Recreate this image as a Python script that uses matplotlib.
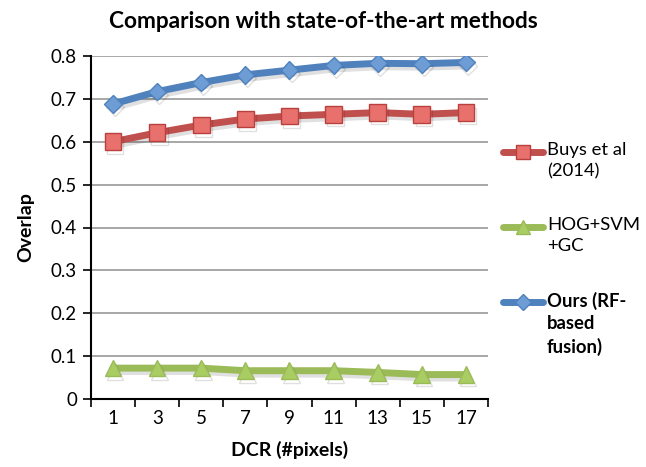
import matplotlib
matplotlib.use("Agg")
import matplotlib.pyplot as plt
import matplotlib.patheffects as pe
from matplotlib.lines import Line2D
import numpy as np

plt.rcParams['font.family'] = ['Lato', 'DejaVu Sans']

dcr = ["1", "3", "5", "7", "9", "11", "13", "15", "17"]
buys = [0.600, 0.621, 0.639, 0.653, 0.660, 0.664, 0.668, 0.664, 0.668]
hog = [0.072, 0.072, 0.072, 0.066, 0.066, 0.066, 0.062, 0.057, 0.057]
ours = [0.688, 0.717, 0.738, 0.756, 0.767, 0.778, 0.783, 0.782, 0.785]

series_labels = ["Buys et al\n(2014)", "HOG+SVM\n+GC", "Ours (RF-\nbased\nfusion)"]
yticks = [0, 0.1, 0.2, 0.3, 0.4, 0.5, 0.6, 0.7, 0.8]

W, H = 646, 467
fig = plt.figure(figsize=(W / 100, H / 100), dpi=100)
ax = fig.add_axes([91 / W, 1 - 399 / H, (488 - 91) / W, (399 - 56) / H])

x = np.arange(len(dcr))
shadow = [pe.SimpleLineShadow(offset=(1.5, -2.5), shadow_color='#000000', alpha=0.12), pe.Normal()]

styles = [
    dict(color='#C0504D', marker='s', mfc='#E8716E', mec='#B9403D', ms=12),
    dict(color='#9BBB59', marker='^', mfc='#A9CC63', mec='#9BBB59', ms=12),
    dict(color='#4F81BD', marker='D', mfc='#6E9DD6', mec='#4F81BD', ms=9),
]
for vals, st in zip([buys, hog, ours], styles):
    ax.plot(x, vals, lw=5, solid_capstyle='round', path_effects=shadow, zorder=3, **st)

ax.set_xlim(-0.5, len(dcr) - 0.5)
ax.set_ylim(0, 0.8)
ax.set_yticks(yticks)
ax.set_yticklabels([f"{v:g}" for v in yticks])
ax.yaxis.grid(True, color='#989898', lw=1.2)
ax.set_axisbelow(True)

# category axis: tick marks between categories, labels at centres
ax.set_xticks(np.arange(-0.5, len(dcr)), minor=False)
ax.set_xticklabels([])
ax.set_xticks(x, minor=True)
ax.set_xticklabels(dcr, minor=True)
ax.tick_params(axis='x', which='major', direction='out', length=6, width=1.2, color='black')
ax.tick_params(axis='x', which='minor', length=0, pad=8, labelsize=13.5)
ax.tick_params(axis='y', direction='out', length=6, width=1.2, pad=4, labelsize=13.5)

for s in ['top', 'right']:
    ax.spines[s].set_visible(False)
for s in ['left', 'bottom']:
    ax.spines[s].set_linewidth(1.5)

ax.set_ylabel("Overlap", fontsize=14, fontweight='bold', labelpad=12)
ax.set_xlabel("DCR (#pixels)", fontsize=14, fontweight='bold', labelpad=10)
fig.text(0.5, 1 - 22 / H, "Comparison with state-of-the-art methods",
         ha='center', va='center', fontsize=16.3, fontweight='bold')

# legend drawn by hand: sample line aligned with the first text line of each entry
entry_y = [152, 227, 302]
weights = ['normal', 'normal', 'bold']
for st, label, yc, wt in zip(styles, series_labels, entry_y, weights):
    yf = 1 - yc / H
    fig.add_artist(Line2D([503 / W, 543 / W], [yf, yf], transform=fig.transFigure,
                          lw=5, color=st['color'], solid_capstyle='round'))
    fig.add_artist(Line2D([523 / W], [yf], transform=fig.transFigure, lw=0,
                          marker=st['marker'], mfc=st['mfc'], mec=st['mec'],
                          ms=st['ms'] * 0.85))
    fig.text(547 / W, 1 - (yc - 10) / H, label, ha='left', va='top',
             fontsize=13.3, fontweight=wt, linespacing=1.38)

fig.savefig("out.png", dpi=100)
